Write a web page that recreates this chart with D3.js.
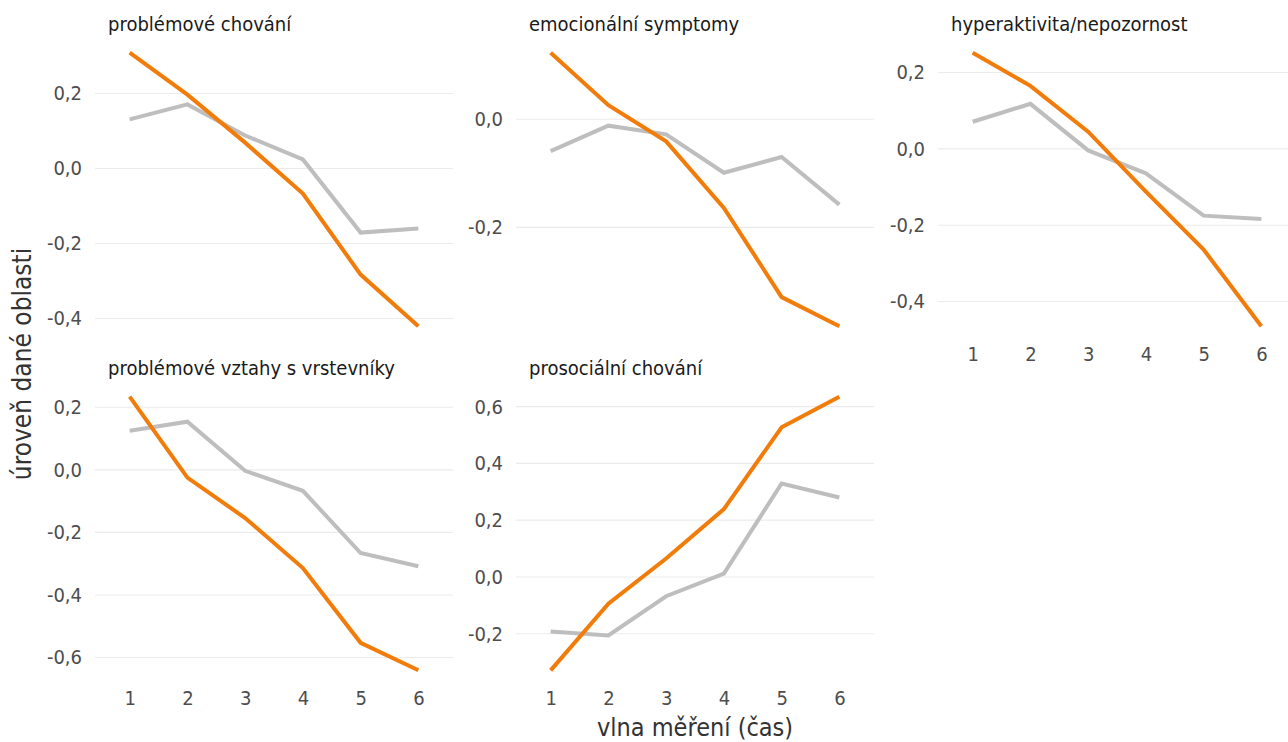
<!DOCTYPE html>
<html>
<head>
<meta charset="utf-8">
<script src="https://d3js.org/d3.v7.min.js"></script>
<style>
    body { margin: 0; background: #fff; }
    svg text { font-family: "Ubuntu Condensed", "DejaVu Sans Condensed", "DejaVu Sans", sans-serif; font-stretch: condensed; }
</style>
</head>
<body>
<div id="chart"></div>
<script>
// data
var waves = [1, 2, 3, 4, 5, 6];
var panels = ["problémové chování", "emocionální symptomy", "hyperaktivita/nepozornost",
              "problémové vztahy s vrstevníky", "prosociální chování"];
var orange = [
    [0.309, 0.197, 0.069, -0.067, -0.283, -0.421],
    [0.123, 0.026, -0.041, -0.164, -0.329, -0.383],
    [0.252, 0.165, 0.045, -0.112, -0.264, -0.465],
    [0.234, -0.025, -0.154, -0.314, -0.553, -0.641],
    [-0.329, -0.094, 0.065, 0.239, 0.527, 0.635]
];
var grey = [
    [0.131, 0.171, 0.088, 0.024, -0.171, -0.160],
    [-0.059, -0.012, -0.028, -0.099, -0.070, -0.158],
    [0.071, 0.118, -0.004, -0.064, -0.175, -0.184],
    [0.125, 0.154, -0.003, -0.067, -0.266, -0.308],
    [-0.192, -0.206, -0.068, 0.012, 0.329, 0.280]
];
var yTicks = [
    [-0.4, -0.2, 0.0, 0.2],
    [-0.2, 0.0],
    [-0.4, -0.2, 0.0, 0.2],
    [-0.6, -0.4, -0.2, 0.0, 0.2],
    [-0.2, 0.0, 0.2, 0.4, 0.6]
];
var xTitle = "vlna měření (čas)";
var yTitle = "úroveň dané oblasti";

// layout
var W = 1288, H = 742;
var colLeft = [95, 516, 938], panelW = 358;
var rowTop = [39, 383], panelH = 301;

var svg = d3.select("#chart").append("svg")
    .attr("width", W).attr("height", H);

var fmt = function (v) { return d3.format(".1f")(v).replace(".", ",").replace("\u2212", "-"); };

panels.forEach(function (name, i) {
    var col = i % 3, row = Math.floor(i / 3);
    var g = svg.append("g")
        .attr("transform", "translate(" + colLeft[col] + "," + rowTop[row] + ")");

    var x = d3.scalePoint().domain(waves).range([0, panelW]).padding(0.6);
    var all = orange[i].concat(grey[i]);
    var ext = d3.extent(all), pad = (ext[1] - ext[0]) * 0.05;
    var y = d3.scaleLinear().domain([ext[0] - pad, ext[1] + pad]).range([panelH, 0]);

    // gridlines
    g.selectAll("line.grid").data(yTicks[i]).enter().append("line")
        .attr("x1", 0).attr("x2", panelW)
        .attr("y1", function (d) { return y(d); })
        .attr("y2", function (d) { return y(d); })
        .attr("stroke", "#ebebeb").attr("stroke-width", 1.1);

    // y axis
    var ya = g.append("g").call(d3.axisLeft(y).tickValues(yTicks[i]).tickFormat(fmt).tickSize(0).tickPadding(13));
    ya.select(".domain").remove();
    ya.selectAll("text").attr("fill", "#4d4d4d").style("font-size", "20px");

    // x axis only where nothing is below
    if (row === 1 || col === 2) {
        var xa = g.append("g").attr("transform", "translate(0," + panelH + ")")
            .call(d3.axisBottom(x).tickSize(0).tickPadding(7));
        xa.select(".domain").remove();
        xa.selectAll("text").attr("fill", "#4d4d4d").style("font-size", "20px");
    }

    var line = d3.line()
        .x(function (d, j) { return x(waves[j]); })
        .y(function (d) { return y(d); });

    g.append("path").datum(grey[i])
        .attr("fill", "none").attr("stroke", "#bebebe").attr("stroke-width", 4)
        .attr("d", line);
    g.append("path").datum(orange[i])
        .attr("fill", "none").attr("stroke", "#f27c0a").attr("stroke-width", 4)
        .attr("d", line);

    // strip title
    g.append("text")
        .attr("x", 13).attr("y", -8)
        .attr("fill", "#1a1a1a").style("font-size", "20px")
        .text(name);
});

// axis titles
svg.append("text")
    .attr("x", 695).attr("y", 736)
    .attr("text-anchor", "middle")
    .attr("fill", "#333").style("font-size", "25px")
    .text(xTitle);

svg.append("text")
    .attr("transform", "translate(31,364) rotate(-90)")
    .attr("text-anchor", "middle")
    .attr("fill", "#333").style("font-size", "26px")
    .text(yTitle);
</script>
</body>
</html>
